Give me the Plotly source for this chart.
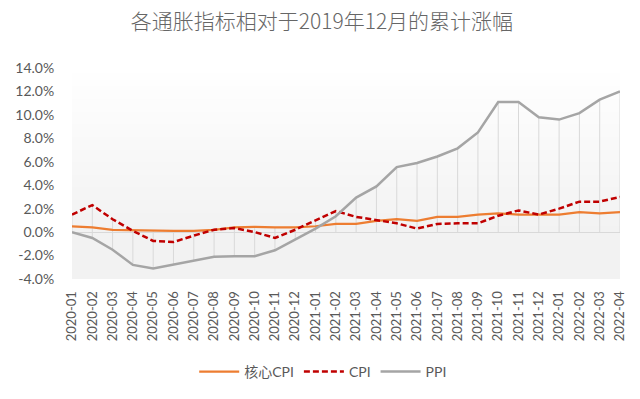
import base64
import struct
import zlib

import plotly.graph_objects as go

# ---------------- data ----------------
months = [
    "2020-01", "2020-02", "2020-03", "2020-04", "2020-05", "2020-06",
    "2020-07", "2020-08", "2020-09", "2020-10", "2020-11", "2020-12",
    "2021-01", "2021-02", "2021-03", "2021-04", "2021-05", "2021-06",
    "2021-07", "2021-08", "2021-09", "2021-10", "2021-11", "2021-12",
    "2022-01", "2022-02", "2022-03", "2022-04",
]
core_cpi = [0.5, 0.4, 0.2, 0.15, 0.15, 0.1, 0.1, 0.2, 0.4, 0.45, 0.4, 0.4,
            0.5, 0.7, 0.7, 0.95, 1.1, 0.95, 1.3, 1.3, 1.5, 1.6, 1.5, 1.5,
            1.5, 1.7, 1.6, 1.7]
cpi = [1.5, 2.3, 1.1, 0.1, -0.75, -0.85, -0.3, 0.2, 0.35, 0.0, -0.5, 0.2,
       1.0, 1.8, 1.3, 1.0, 0.75, 0.3, 0.7, 0.75, 0.75, 1.4, 1.85, 1.5,
       2.0, 2.6, 2.6, 3.0]
ppi = [0.0, -0.5, -1.5, -2.8, -3.1, -2.75, -2.4, -2.1, -2.05, -2.05, -1.55, -0.6,
       0.3, 1.35, 2.95, 3.9, 5.55, 5.9, 6.45, 7.15, 8.5, 11.1, 11.1, 9.8,
       9.6, 10.15, 11.3, 12.0]
series_names = ["核心CPI", "CPI", "PPI"]
y_ticks = [-4, -2, 0, 2, 4, 6, 8, 10, 12, 14]
title_text = "各通胀指标相对于2019年12月的累计涨幅"

# ---------------- background gradient (style only) ----------------
def gradient_png(levels):
    raw = b"".join(b"\x00" + bytes([v, v, v]) for v in levels)
    def chunk(tag, data):
        return (struct.pack(">I", len(data)) + tag + data +
                struct.pack(">I", zlib.crc32(tag + data) & 0xFFFFFFFF))
    ihdr = struct.pack(">IIBBBBB", 1, len(levels), 8, 2, 0, 0, 0)
    png = (b"\x89PNG\r\n\x1a\n" + chunk(b"IHDR", ihdr) +
           chunk(b"IDAT", zlib.compress(raw)) + chunk(b"IEND", b""))
    return "data:image/png;base64," + base64.b64encode(png).decode()

ymin, ymax = y_ticks[0], y_ticks[-1]
n_rows = 180
levels = []
for r in range(n_rows):
    val = ymax - (ymax - ymin) * (r + 0.5) / n_rows
    if val >= 0:
        t = (ymax - val) / ymax
        levels.append(int(round(255 - 13 * t)))
    else:
        levels.append(242)
bg_src = gradient_png(levels)

# ---------------- drop lines derived from data ----------------
drop_x, drop_y = [], []
for m, a, b, c in zip(months, core_cpi, cpi, ppi):
    drop_x += [m, m, None]
    drop_y += [max(0, a, b, c), min(0, a, b, c), None]

font_fam = "Lato, 'Noto Sans CJK SC', sans-serif"
txt_col = "#595959"

fig = go.Figure()
fig.add_trace(go.Scatter(x=drop_x, y=drop_y, mode="lines",
                         line=dict(color="#d9d9d9", width=1),
                         showlegend=False, hoverinfo="skip"))
fig.add_trace(go.Scatter(x=months, y=core_cpi, name=series_names[0], mode="lines",
                         line=dict(color="#ed7d31", width=2.25)))
fig.add_trace(go.Scatter(x=months, y=cpi, name=series_names[1], mode="lines",
                         line=dict(color="#c00000", width=2.5, dash="6px,3px")))
fig.add_trace(go.Scatter(x=months, y=ppi, name=series_names[2], mode="lines",
                         line=dict(color="#a5a5a5", width=2.5)))

fig.update_layout(
    width=640, height=399,
    margin=dict(l=72, r=20, t=68, b=120, autoexpand=False),
    paper_bgcolor="white",
    plot_bgcolor="rgba(0,0,0,0)",
    font=dict(family=font_fam, color=txt_col, size=13),
    title=dict(text=title_text, x=0.503, xanchor="center", y=0.945, yanchor="middle",
               yref="container",
               font=dict(family="'Noto Sans CJK SC', sans-serif", size=21,
                         color="#666666", weight=300)),
    showlegend=True,
    legend=dict(orientation="h", x=0.505, xanchor="center", xref="container",
                y=1 - 372 / 399, yanchor="middle", yref="container",
                font=dict(size=14, color=txt_col), bgcolor="rgba(0,0,0,0)",
                itemwidth=40),
    images=[dict(source=bg_src, xref="paper", yref="paper", x=0, y=1,
                 sizex=1, sizey=1, xanchor="left", yanchor="top",
                 sizing="stretch", layer="below")],
)
fig.update_xaxes(type="category", range=[0, len(months) - 1], tickangle=-90,
                 showgrid=False, zeroline=False, showline=False, automargin=False,
                 ticks="outside", ticklen=6, tickcolor="rgba(0,0,0,0)",
                 tickfont=dict(size=13, color=txt_col))
fig.update_yaxes(range=[ymin, ymax], tickvals=y_ticks,
                 ticktext=[f"{v:.1f}%" for v in y_ticks],
                 showgrid=False, zeroline=True, zerolinecolor="#d9d9d9",
                 zerolinewidth=1, showline=False, automargin=False,
                 ticks="outside", ticklen=14, tickcolor="rgba(0,0,0,0)",
                 tickfont=dict(size=14, color=txt_col))

fig.write_html("out.html", config={"displayModeBar": False},
               post_script="document.body.style.margin='0';document.body.style.overflow='hidden';")
